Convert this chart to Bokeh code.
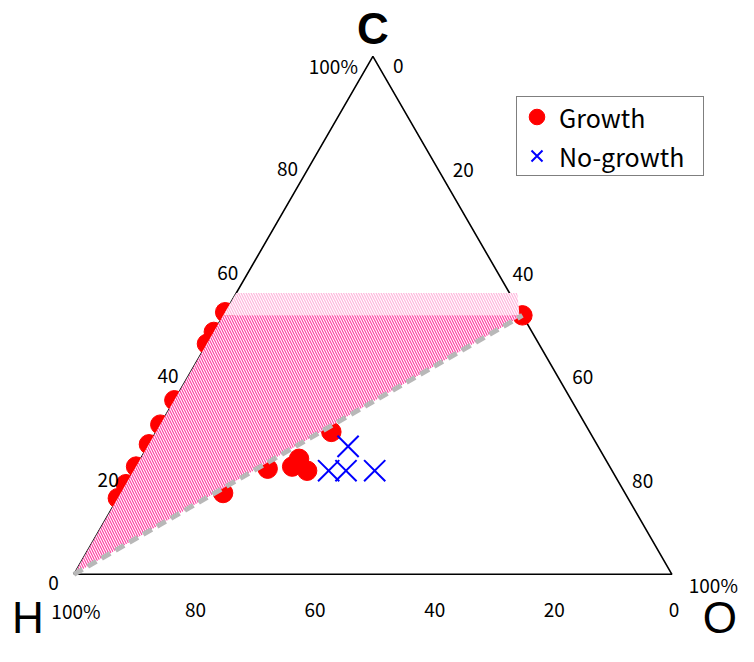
import numpy as np
from bokeh.plotting import figure
from bokeh.models import Range1d, Legend, LegendItem
from bokeh.core.properties import value
from bokeh.embed import file_html
from bokeh.resources import INLINE

# ---------------- data (atomic %) ----------------
growth_C = [50.6, 46.8, 44.5, 33.6, 28.9, 25.1, 20.8, 17.4, 14.7,
            15.7, 20.4, 20.8, 20.0, 22.3, 27.5, 50.0]
growth_O = [0.0, 0.0, 0.0, 0.0, 0.0, 0.0, 0.0, 0.0, 0.0,
            17.1, 22.2, 26.1, 29.0, 26.5, 29.3, 50.0]
growth_H = [round(100 - c - o, 1) for c, o in zip(growth_C, growth_O)]

nogrowth_C = [20.0, 20.0, 24.7, 20.0]
nogrowth_O = [32.6, 35.5, 33.5, 40.3]
nogrowth_H = [round(100 - c - o, 1) for c, o in zip(nogrowth_C, nogrowth_O)]

# diamond growth domain (H - C50/H50 - CO) and H-CO line
region_C = [0.0, 50.0, 50.0]
region_O = [0.0, 0.0, 50.0]
band_C = [50.0, 54.3, 54.3, 50.0]
band_O = [0.0, 0.0, 47.0, 49.5]
line_C = [0.0, 50.0]
line_O = [0.0, 50.0]

ticks = [0, 20, 40, 60, 80, 100]
tick_labels = ["0", "20", "40", "60", "80", "100%"]

S = np.sqrt(3) / 2


def tx(c, o):
    return [oo + cc / 2 for cc, oo in zip(c, o)]


def ty(c, o):
    return [cc * S for cc in c]


# ---------------- figure ----------------
W, H = 738, 646
k = 5.98                 # px per % unit
hx, hy = 73.4, 573.8     # H vertex inside the frame (px from top-left)
x0 = -hx / k
y0 = -(H - hy) / k
p = figure(width=W, height=H, output_backend="svg", toolbar_location=None,
           x_range=Range1d(x0, x0 + W / k), y_range=Range1d(y0, y0 + H / k),
           x_axis_type=None, y_axis_type=None, min_border=0,
           outline_line_color=None, background_fill_color="white")
p.grid.visible = False

# triangle outline
tri_C = [0, 100, 0, 0]
tri_O = [0, 0, 100, 0]
p.line(tx(tri_C, tri_O), ty(tri_C, tri_O), line_color="black", line_width=1.6)

# data points
r_g = p.scatter(tx(growth_C, growth_O), ty(growth_C, growth_O), marker="circle",
                size=19.5, fill_color="#FF0000", line_color="#FF0000")
r_n = p.scatter(tx(nogrowth_C, nogrowth_O), ty(nogrowth_C, nogrowth_O), marker="x",
                size=30, line_color="#0000FF", line_width=2.0)

# hatched growth domain
p.patch(tx(band_C, band_O), ty(band_C, band_O), fill_color="white", line_color=None,
        hatch_pattern="\\", hatch_color="#FFB5DC", hatch_scale=5, hatch_weight=1.2)
p.patch(tx(region_C, region_O), ty(region_C, region_O), fill_color="white", line_color=None,
        hatch_pattern="\\", hatch_color="#FF40A3", hatch_scale=5, hatch_weight=1.2)
p.line(tx(line_C, line_O), ty(line_C, line_O), line_color="#B8B8B8", line_width=5,
       line_dash="10 6")

tick_font = value("Noto Sans CJK JP")
fs = "19px"
# left edge: C %
lc = [float(t) for t in ticks]
lo = [0.0] * len(ticks)
p.text(tx(lc, lo), ty(lc, lo), text=tick_labels, text_align="right", text_baseline="middle",
       x_offset=-15, y_offset=9, text_font=tick_font, text_font_size=fs, text_color="black")
# right edge: O %
rc = [100.0 - t for t in ticks]
ro = [float(t) for t in ticks]
p.text(tx(rc, ro), ty(rc, ro), text=tick_labels,
       text_align=["left"] * 5 + ["right"], text_baseline="middle",
       x_offset=[20] * 5 + [66], y_offset=10, text_font=tick_font, text_font_size=fs,
       text_color="black")
# bottom edge: H %
bc = [0.0] * len(ticks)
bo = [100.0 - t for t in ticks]
p.text(tx(bc, bo), ty(bc, bo), text=tick_labels, text_align="center", text_baseline="middle",
       x_offset=2, y_offset=36, text_font=tick_font, text_font_size=fs, text_color="black")

# vertex labels
p.text([50.0], [100 * S], text=["C"], text_align="center", text_baseline="middle",
       y_offset=-28, text_font=value("Liberation Sans"), text_font_style="bold",
       text_font_size="44px", text_color="black")
p.text([0.0], [0.0], text=["H"], text_align="center", text_baseline="middle",
       x_offset=-46, y_offset=43, text_font=value("Liberation Sans"),
       text_font_size="44px", text_color="black")
p.text([100.0], [0.0], text=["O"], text_align="right", text_baseline="middle",
       x_offset=65, y_offset=43, text_font=value("Liberation Sans"),
       text_font_size="44px", text_color="black")

legend = Legend(items=[LegendItem(label="Growth", renderers=[r_g]),
                       LegendItem(label="No-growth", renderers=[r_n])],
                location=(516, 470), padding=0, spacing=0, margin=0,
                glyph_width=39, glyph_height=39, label_standoff=3, label_width=144,
                label_text_font="Noto Sans CJK JP", label_text_font_size="25px",
                label_text_color="black",
                border_line_color="black", border_line_width=1,
                background_fill_color="white", background_fill_alpha=1.0)
p.add_layout(legend)

open("out.html", "w").write(file_html(p, INLINE))
